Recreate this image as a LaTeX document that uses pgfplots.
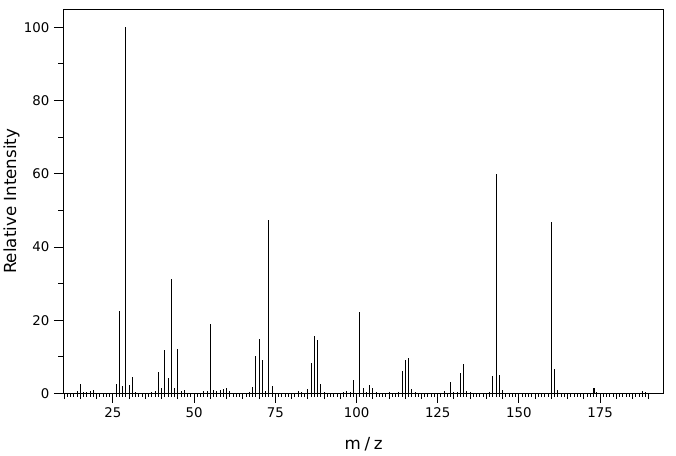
\documentclass[border=0pt]{standalone}
\usepackage{pgfplots}
\pgfplotsset{compat=1.18}
\usepackage{fontspec}
\setmainfont{DejaVu Sans}
\begin{document}
\begin{tikzpicture}[x=1pt,y=1pt]
\useasboundingbox (0,0) rectangle (507,341.25);
\pgfplotsset{commonax/.style={
  at={(47.475pt,46.125pt)}, anchor=south west,
  width=450.5pt, height=288.15pt, scale only axis,
  xmin=9.72, xmax=194.65, ymin=0, ymax=104.9,
  tick align=outside, xtick pos=left, ytick pos=left,
  axis line style={line width=0.75pt},
  tick style={black, line width=0.75pt},
  /pgf/number format/assume math mode=true,
  tick label style={font=\fontsize{10}{12}\selectfont},
}}
% minor x ticks every 1
\begin{axis}[commonax, xtick={10,...,190}, xticklabels={}, ytick=\empty,
  major tick length=2.5pt, minor x tick num=0, axis line style={draw=none}]
\end{axis}
% medium x ticks every 5
\begin{axis}[commonax, xtick={10,15,...,190}, xticklabels={}, ytick=\empty,
  major tick length=4.2pt, minor x tick num=0, axis line style={draw=none}]
\end{axis}
% main axis
\begin{axis}[commonax,
  xtick={25,50,...,175}, minor x tick num=0,
  ytick={0,20,...,100}, minor y tick num=1,
  major tick length=7pt, minor tick length=3.75pt,
  xlabel={m\kern2.8pt/\kern2.8pt z},
  ylabel={Relative Intensity},
  xlabel style={at={(axis description cs:0.5,-0.1445)}, anchor=base, font=\fontsize{12.5}{14}\selectfont},
  ylabel style={at={(axis description cs:-0.0862,0.5)}, anchor=center, rotate=0, font=\fontsize{12.5}{14}\selectfont},
]
\addplot[ycomb, black, line width=0.75pt, no marks] coordinates {
(14,0.6) (15,2.6) (16,0.5) (17,0.5) (18,0.6) (19,1.0)
(26,2.5) (27,22.5) (28,2.0) (29,100) (30,2.3) (31,4.5) (32,0.5)
(37,0.5) (38,0.6) (39,5.8) (40,1.5) (41,11.8) (42,4.2) (43,31.2) (44,1.5) (45,12.1) (46,0.6) (47,0.9)
(53,0.6) (54,0.6) (55,19.0) (56,0.9) (57,0.8) (58,0.9) (59,1.3) (60,1.5) (61,0.6)
(67,0.4) (68,1.7) (69,10.2) (70,14.8) (71,9.1) (72,0.6) (73,47.5) (74,2.0)
(82,0.6) (83,0.4) (85,1.3) (86,8.3) (87,15.7) (88,14.6) (89,2.5) (90,0.4)
(96,0.5) (97,0.6) (98,0.4) (99,3.6) (101,22.2) (102,1.5) (103,0.5) (104,2.3) (105,1.5) (106,0.4)
(110,0.4) (113,0.4) (114,6.1) (115,9.1) (116,9.8) (117,1.3) (118,0.3)
(127,0.6) (129,3.2) (130,0.4) (131,0.4) (132,5.6) (133,8.0) (134,0.6) (135,0.3)
(141,0.5) (142,4.7) (143,59.9) (144,5.0) (145,0.9)
(160,46.8) (161,6.7) (162,0.9)
(174,0.4) (188,0.6) (189,0.4)
};
\addplot[ycomb, black, line width=1.5pt, no marks] coordinates {(173,1.5)};
\end{axis}
\end{tikzpicture}
\end{document}
